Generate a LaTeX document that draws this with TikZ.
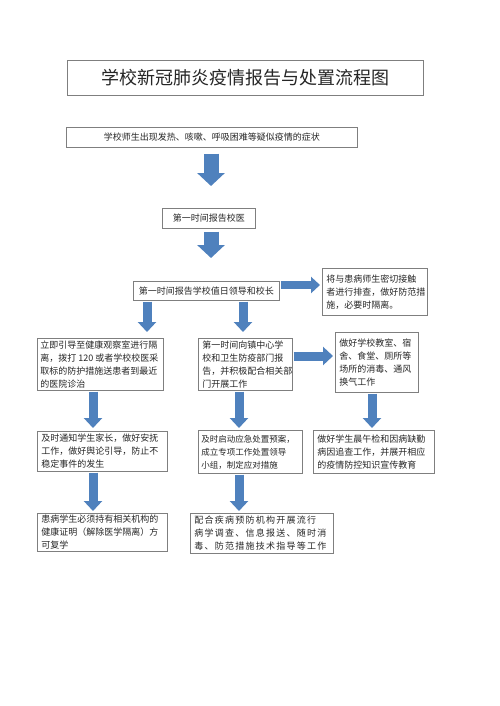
\documentclass[tikz,border=0pt]{standalone}
\usepackage{fontspec}
\newfontfamily\cjk{Noto Sans CJK SC}
\newfontfamily\cjkw[LetterSpace=14]{Noto Sans CJK SC}
\usetikzlibrary{arrows.meta}
\definecolor{arrowblue}{HTML}{4F81BD}
\definecolor{boxline}{HTML}{7F7F7F}
\definecolor{txt}{HTML}{262626}
\begin{document}
\begin{tikzpicture}[x=1pt,y=-1pt,
  box/.style={draw=boxline, line width=0.7pt, anchor=north west, inner xsep=4pt, inner ysep=2pt,
    text=txt, font=\cjk\fontsize{9}{13}\selectfont, align=left},
  cbox/.style={box, align=center},
  fat/.style={arrowblue, line width=15pt, -{Triangle[width=27pt,length=13pt]}},
  slim/.style={arrowblue, line width=9pt, -{Triangle[width=18pt,length=10pt]}},
]
\useasboundingbox (0,0) rectangle (500,706);
\fill[white] (0,0) rectangle (500,706);

\node[cbox, minimum width=356pt, minimum height=35pt, font=\cjk\fontsize{18}{20}\selectfont] (title) at (67,60) {学校新冠肺炎疫情报告与处置流程图};
\node[cbox, minimum width=291pt, minimum height=20pt] (b2) at (66,127) {学校师生出现发热、咳嗽、呼吸困难等疑似疫情的症状};
\node[cbox, minimum width=93pt, minimum height=20pt] (b3) at (162,208) {第一时间报告校医};
\node[cbox, minimum width=146pt, minimum height=19pt] (b4) at (133,281) {第一时间报告学校值日领导和校长};
\node[box, text width=97pt, minimum height=47pt] (b5) at (322,268) {将与患病师生密切接触\\者进行排查，做好防范措\\施，必要时隔离。};
\node[box, inner xsep=3pt, text width=120pt, minimum height=52pt] (b6) at (37,338) {立即引导至健康观察室进行隔\\\mbox{离，拨打\hspace{2pt}120\hspace{2pt}或者学校校医采}\\取标的防护措施送患者到最近\\的医院诊治};
\node[box, text width=86pt, minimum height=52pt] (b7) at (198,338) {第一时间向镇中心学\\校和卫生防疫部门报\\告，并积极配合相关部\\门开展工作};
\node[box, text width=75pt, minimum height=60pt] (b8) at (335,332) {做好学校教室、宿\\舍、食堂、厕所等\\场所的消毒、通风\\换气工作};
\node[box, text width=122pt, minimum height=40pt] (b9) at (37,431) {及时通知学生家长，做好安抚\\工作，做好舆论引导，防止不\\稳定事件的发生};
\node[box, inner xsep=3pt, text width=98pt, minimum height=43pt, font=\cjk\fontsize{8.5}{13}\selectfont] (b10) at (198,430) {及时启动应急处置预案，\\成立专项工作处置领导\\小组，制定应对措施};
\node[box, text width=113pt, minimum height=43pt] (b11) at (313,430) {做好学生晨午检和因病缺勤\\病因追查工作，并展开相应\\的疫情防控知识宣传教育};
\node[box, text width=122pt, minimum height=38pt] (b12) at (37,513) {患病学生必须持有相关机构的\\健康证明（解除医学隔离）方\\可复学};
\node[box, text width=135pt, minimum height=40pt, font=\cjkw\fontsize{9}{13}\selectfont] (b13) at (190,513) {配合疾病预防机构开展流行\\病学调查、信息报送、随时消\\毒、防范措施技术指导等工作};

\coordinate (xa) at (211,0);
\coordinate (xl) at (147,0);
\coordinate (xm) at (243,0);
\coordinate (yr) at (0,285);
\coordinate (ys) at (0,356);
\coordinate (c1) at (93,0);
\coordinate (c2) at (239,0);
\coordinate (c3) at (372,0);

\draw[fat, shorten <=6pt, shorten >=22pt] (b2.south -| xa) -- (b3.north -| xa);
\draw[fat, shorten <=3pt, shorten >=23pt] (b3.south -| xa) -- (b4.north -| xa);
\draw[slim, line width=8pt, -{Triangle[width=16pt,length=9pt]}, shorten <=1pt, shorten >=2pt] (b4.east |- yr) -- (b5.west |- yr);
\draw[slim, shorten <=1pt, shorten >=6pt] (b4.south -| xl) -- (b6.north -| xl);
\draw[slim, shorten <=1pt, shorten >=6pt] (b4.south -| xm) -- (b7.north -| xm);
\draw[slim, shorten <=1pt, shorten >=2pt] (b7.east |- ys) -- (b8.west |- ys);
\draw[slim, shorten <=1pt, shorten >=3pt] (b6.south -| c1) -- (b9.north -| c1);
\draw[slim, shorten <=1pt, shorten >=2pt] (b7.south -| c2) -- (b10.north -| c2);
\draw[slim, shorten <=1pt, shorten >=2pt] (b8.south -| c3) -- (b11.north -| c3);
\draw[slim, shorten <=1pt, shorten >=2pt] (b9.south -| c1) -- (b12.north -| c1);
\draw[slim, shorten <=1pt, shorten >=2pt] (b10.south -| c2) -- (b13.north -| c2);
\end{tikzpicture}
\end{document}
